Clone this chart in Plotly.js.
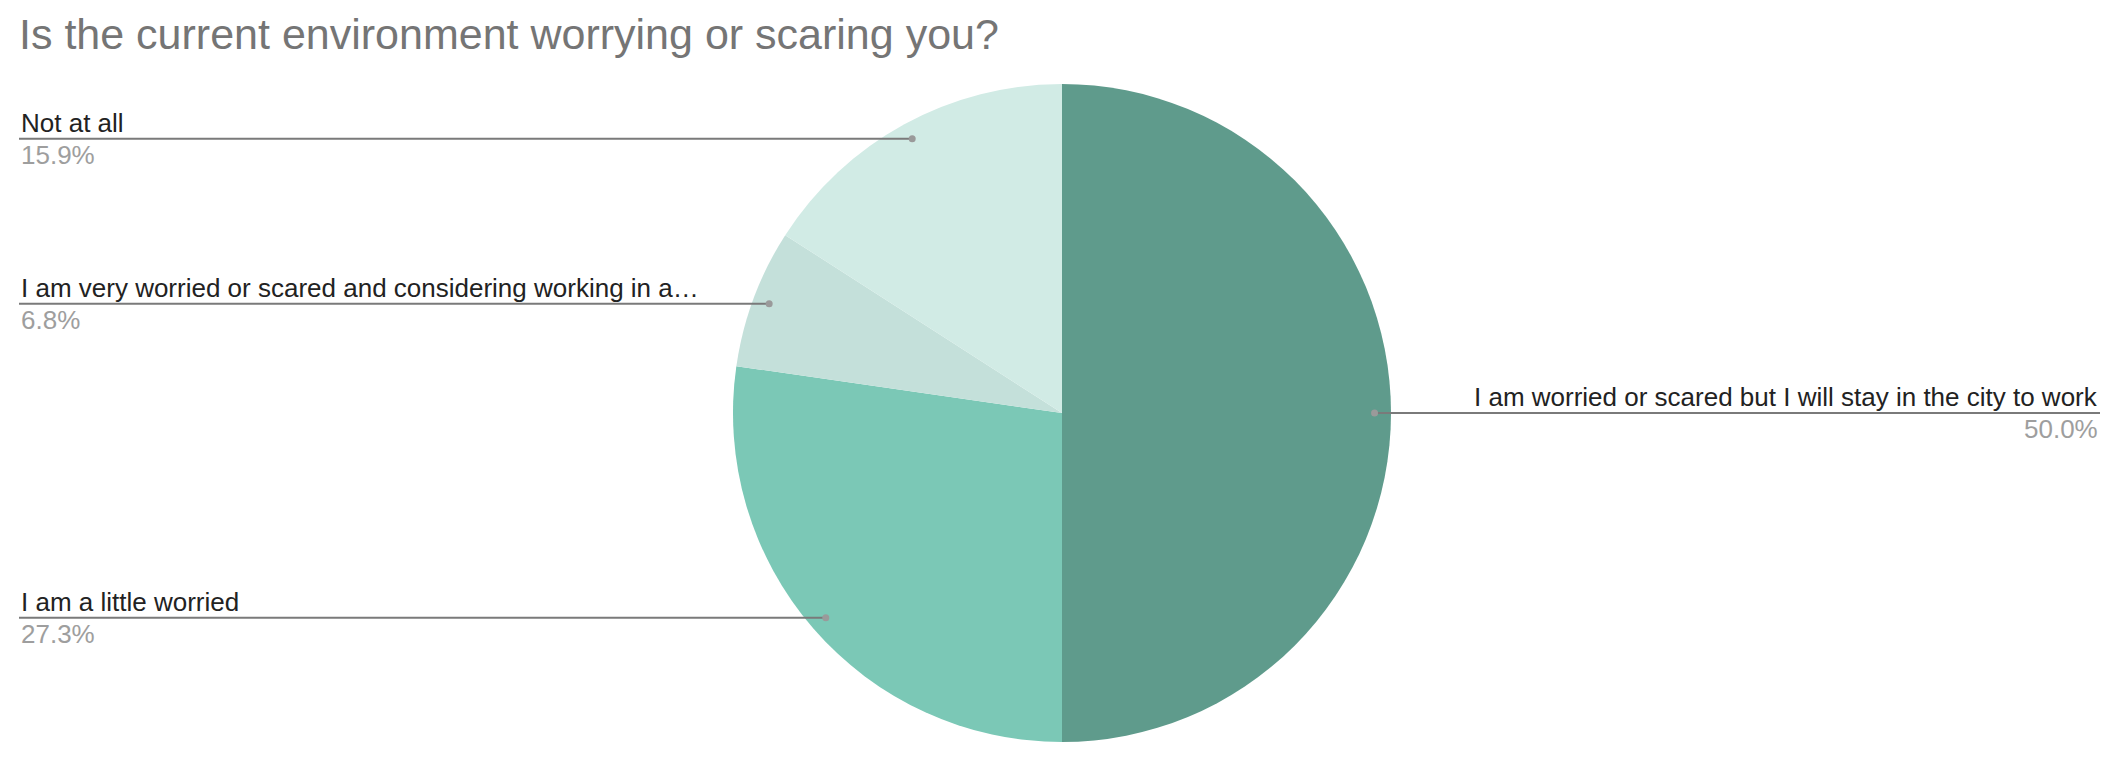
<!DOCTYPE html>
<html>
<head>
<meta charset="utf-8">
<script src="https://cdn.plot.ly/plotly-3.0.1.min.js"></script>
<style>
  html, body { margin: 0; padding: 0; background: #fff; }
  #chart { width: 2122px; height: 772px; }
</style>
</head>
<body>
<div id="chart"></div>
<script>
var labels = [
  'I am worried or scared but I will stay in the city to work',
  'I am a little worried',
  'I am very worried or scared and considering working in a\u2026',
  'Not at all'
];
var counts = [22, 12, 3, 7];
var percentLabels = ['50.0%', '27.3%', '6.8%', '15.9%'];
var colors = ['#5f9b8c', '#7bc8b6', '#c4e0da', '#d1ebe5'];

var W = 2122, H = 772;
var cx = 1062, cy = 413, R = 329;
var leftX = 19, rightX = 2100;
var fontFam = 'Liberation Sans, Arial, sans-serif';

function px(x) { return x / W; }
function py(y) { return 1 - y / H; }

var total = counts.reduce(function (a, b) { return a + b; }, 0);
var shapes = [];
var annotations = [];
var cum = 0;
for (var i = 0; i < counts.length; i++) {
  var mid = (cum + counts[i] / 2) / total * 2 * Math.PI;
  cum += counts[i];
  var dx = cx + 0.95 * R * Math.sin(mid);
  var dy = cy - 0.95 * R * Math.cos(mid);
  var onLeft = dx < cx;
  var endX = onLeft ? leftX : rightX;
  shapes.push({
    type: 'line', xref: 'paper', yref: 'paper',
    x0: px(endX), x1: px(dx), y0: py(dy), y1: py(dy),
    line: {color: '#7a7a7a', width: 2}
  });
  shapes.push({
    type: 'circle', xref: 'paper', yref: 'paper',
    xsizemode: 'pixel', ysizemode: 'pixel',
    xanchor: px(dx), yanchor: py(dy),
    x0: -3.5, x1: 3.5, y0: -3.5, y1: 3.5,
    fillcolor: '#9a9a9a', line: {width: 0}
  });
  annotations.push({
    xref: 'paper', yref: 'paper', showarrow: false,
    x: px(endX), y: py(dy), xanchor: onLeft ? 'left' : 'right', yanchor: 'bottom',
    yshift: -1, text: labels[i],
    font: {family: fontFam, size: 26, color: '#222222'}
  });
  annotations.push({
    xref: 'paper', yref: 'paper', showarrow: false,
    x: px(endX), y: py(dy), xanchor: onLeft ? 'left' : 'right', yanchor: 'top',
    yshift: 1, text: percentLabels[i],
    font: {family: fontFam, size: 26, color: '#9e9e9e'}
  });
}

var data = [{
  type: 'pie',
  labels: labels,
  values: counts,
  sort: false,
  direction: 'clockwise',
  rotation: 0,
  textinfo: 'none',
  marker: {colors: colors, line: {width: 0}},
  domain: {x: [px(cx - R), px(cx + R)], y: [py(cy + R), py(cy - R)]},
  showlegend: false
}];

var layout = {
  width: W,
  height: H,
  margin: {l: 0, r: 0, t: 0, b: 0},
  paper_bgcolor: '#ffffff',
  title: {
    text: 'Is the current environment worrying or scaring you?',
    x: px(leftX), xanchor: 'left', xref: 'paper',
    y: py(34), yanchor: 'middle', yref: 'container',
    font: {family: fontFam, size: 43, color: '#757575'}
  },
  shapes: shapes,
  annotations: annotations
};

Plotly.newPlot('chart', data, layout, {displayModeBar: false});
</script>
</body>
</html>
